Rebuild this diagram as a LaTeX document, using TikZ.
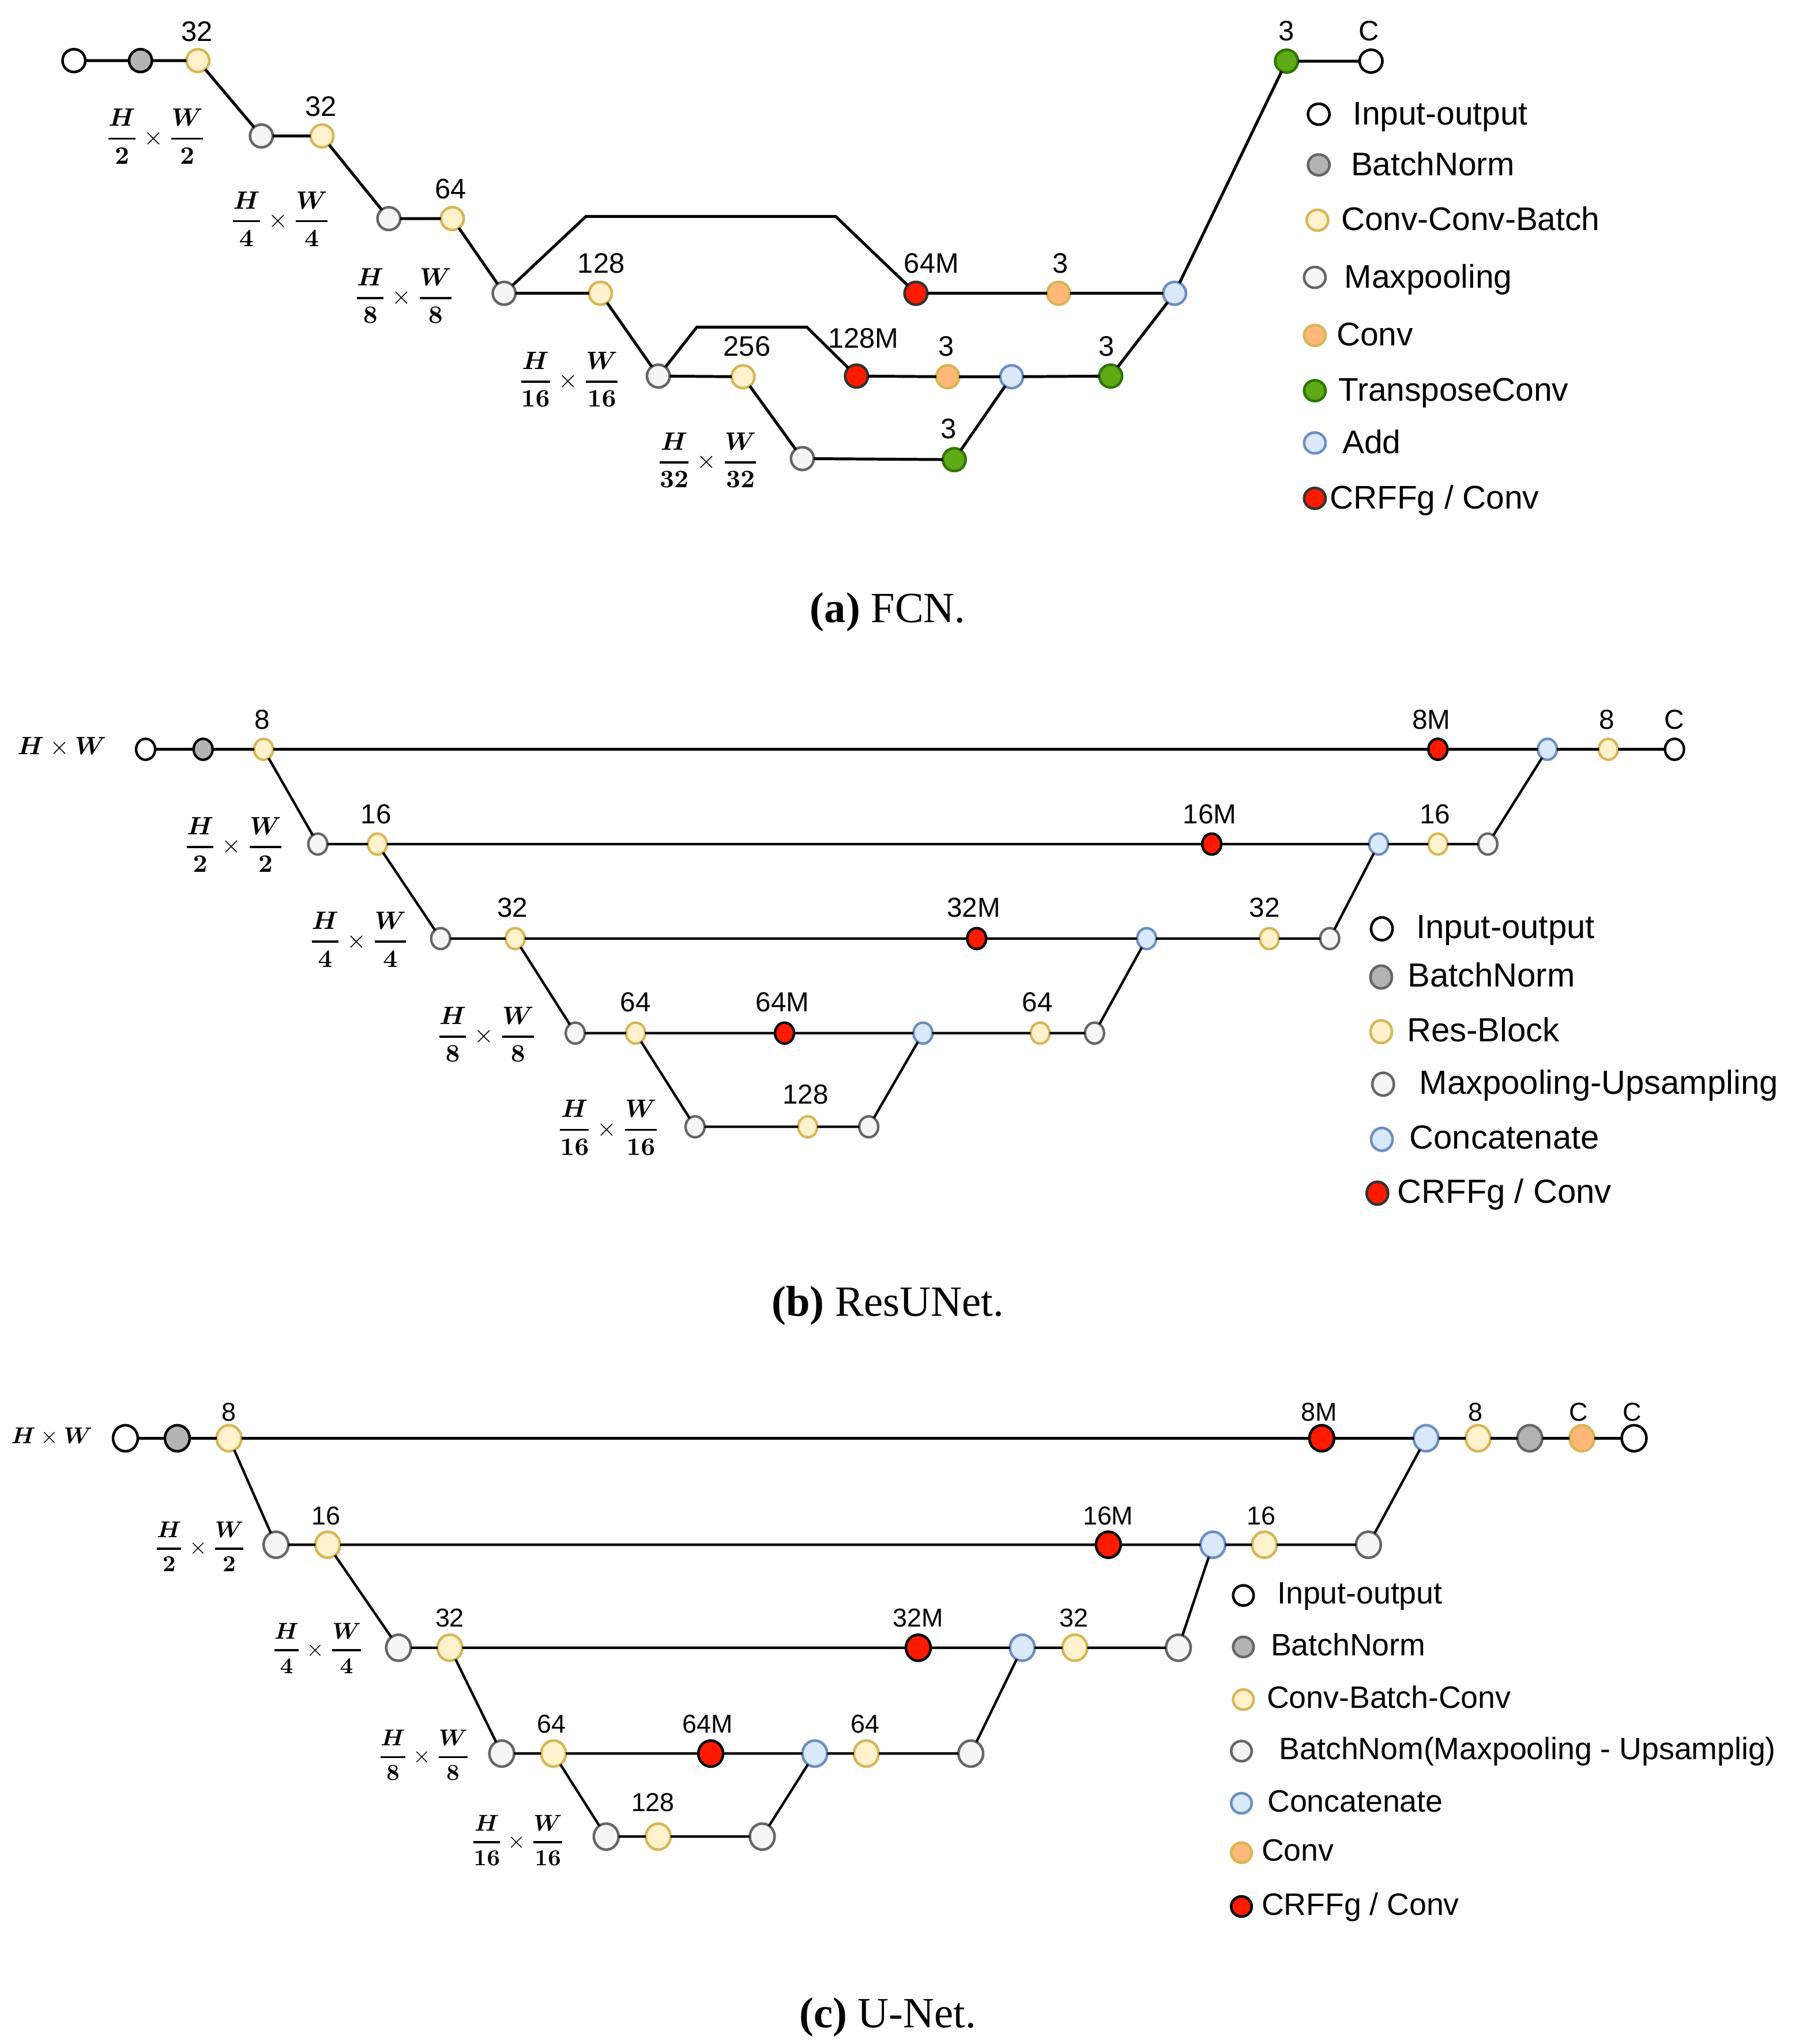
\documentclass[tikz,border=0pt]{standalone}
\usepackage{amsmath}
\usepackage[no-math]{fontspec}
\newfontfamily\arialf{Liberation Sans}
\newfontfamily\timesf{Liberation Serif}
\usetikzlibrary{shapes.geometric}
\definecolor{yfill}{HTML}{FFF2CC}\definecolor{ydraw}{HTML}{D6B656}
\definecolor{gfill}{HTML}{F5F5F5}\definecolor{gdraw}{HTML}{666666}
\definecolor{bnfill}{HTML}{B3B3B3}
\definecolor{ofill}{HTML}{FFB878}
\definecolor{tfill}{HTML}{60A917}\definecolor{tdraw}{HTML}{2D7600}
\definecolor{bfill}{HTML}{DAE8FC}\definecolor{bdraw}{HTML}{6C8EBF}
\definecolor{rfill}{HTML}{FF1A00}\definecolor{rdraw}{HTML}{333333}
\newcommand{\frc}[1]{$\boldsymbol{\genfrac{}{}{0.9pt}{0}{H}{#1}}\times\boldsymbol{\genfrac{}{}{0.9pt}{0}{W}{#1}}$}
\begin{document}
\begin{tikzpicture}[x=0.02cm,y=-0.02cm,
  nd/.style={draw, inner sep=0pt, outer sep=0pt},
  na/.style={nd, circle, minimum size=0.35cm, line width=0.04cm},
  nb/.style={nd, ellipse, minimum width=0.292cm, minimum height=0.322cm, line width=0.038cm},
  nc/.style={nd, ellipse, minimum width=0.38cm, minimum height=0.40cm, line width=0.04cm},
  la/.style={nd, ellipse, minimum width=0.33cm, minimum height=0.32cm, line width=0.04cm},
  lb/.style={nd, ellipse, minimum width=0.33cm, minimum height=0.35cm, line width=0.04cm},
  lc/.style={nd, ellipse, minimum width=0.315cm, minimum height=0.31cm, line width=0.04cm},
  io/.style={fill=white, draw=black},
  bn/.style={fill=bnfill, draw=black},
  bng/.style={fill=bnfill, draw=gdraw},
  yl/.style={fill=yfill, draw=ydraw},
  mp/.style={fill=gfill, draw=gdraw},
  cv/.style={fill=ofill, draw=ydraw},
  tc/.style={fill=tfill, draw=tdraw},
  ad/.style={fill=bfill, draw=bdraw},
  cr/.style={fill=rfill, draw=rdraw},
  crk/.style={fill=rfill, draw=black},
  lna/.style={line width=0.044cm},
  lnb/.style={line width=0.038cm},
  laba/.style={inner sep=0pt, anchor=base, font=\arialf\fontsize{12.3}{14}\selectfont},
  labb/.style={inner sep=0pt, anchor=base, font=\arialf\fontsize{12}{14}\selectfont},
  labc/.style={inner sep=0pt, anchor=base, font=\arialf\fontsize{11.3}{13}\selectfont},
  lga/.style={inner sep=0pt, anchor=base west, font=\arialf\fontsize{14.3}{17}\selectfont},
  lgb/.style={inner sep=0pt, anchor=base west, font=\arialf\fontsize{14.6}{17}\selectfont},
  lgc/.style={inner sep=0pt, anchor=base west, font=\arialf\fontsize{13.5}{16}\selectfont},
  fra/.style={inner sep=0pt, font=\fontsize{11}{13}\selectfont},
  frcc/.style={inner sep=0pt, font=\fontsize{10.4}{12}\selectfont},
  captxt/.style={inner sep=0pt, anchor=base, font=\timesf\fontsize{18.8}{22}\selectfont}
]
\useasboundingbox (0,0) rectangle (1380,1568);

%% ---------------- (a) FCN ----------------
\node[na,io] (a_in) at (56.7,46.5) {};
\node[na,bn] (a_bn) at (107.8,46.5) {};
\node[na,yl] (a_c1) at (151.8,46.5) {};
\node[na,mp] (a_m1) at (200.5,104.3) {};
\node[na,yl] (a_c2) at (247,104.3) {};
\node[na,mp] (a_m2) at (298.3,167.7) {};
\node[na,yl] (a_c3) at (347,167.7) {};
\node[na,mp] (a_m3) at (386.7,225) {};
\node[na,yl] (a_c4) at (460.6,225) {};
\node[na,mp] (a_m4) at (505,288.5) {};
\node[na,yl] (a_c5) at (570,289) {};
\node[na,mp] (a_m5) at (615.5,351.8) {};
\node[na,tc] (a_t1) at (732,352.6) {};
\node[na,cr] (a_r2) at (657,288.5) {};
\node[na,cv] (a_o2) at (727,289) {};
\node[na,ad] (a_d2) at (776,289) {};
\node[na,tc] (a_t2) at (852,288.5) {};
\node[na,cr] (a_r1) at (702.6,225) {};
\node[na,cv] (a_o1) at (812,225) {};
\node[na,ad] (a_d1) at (901,225) {};
\node[na,tc] (a_t3) at (986.9,46.9) {};
\node[na,io] (a_out) at (1051.7,46.9) {};
\coordinate (ka1) at (449.5,166);
\coordinate (ka2) at (641,166);
\coordinate (kb1) at (534.5,251);
\coordinate (kb2) at (619,251);

\draw[lna] (a_in) -- (a_bn) -- (a_c1) -- (a_m1) -- (a_c2) -- (a_m2) -- (a_c3) -- (a_m3) -- (a_c4) -- (a_m4) -- (a_c5) -- (a_m5) -- (a_t1) -- (a_d2);
\draw[lna] (a_m3) -- (ka1) -- (ka2) -- (a_r1) -- (a_o1) -- (a_d1);
\draw[lna] (a_m4) -- (kb1) -- (kb2) -- (a_r2) -- (a_o2) -- (a_d2) -- (a_t2) -- (a_d1) -- (a_t3) -- (a_out);

\node[laba] (al1) at (151,31.5) {32};
\node[laba] (al2) at (246.2,89) {32};
\node[laba] (al3) at (345.8,152.5) {64};
\node[laba] (al4) at (461.2,209.5) {128};
\node[laba] (al5) at (573,273) {256};
\node[laba] (al6) at (714.5,209.5) {64M};
\node[laba] (al7) at (813.6,209.5) {3};
\node[laba] (al8) at (662.3,266.8) {128M};
\node[laba] (al9) at (725.7,273) {3};
\node[laba] (al10) at (848.7,273) {3};
\node[laba] (al11) at (727.6,336.3) {3};
\node[laba] (al12) at (986.9,31.2) {3};
\node[laba] (al13) at (1050,31.2) {C};

\node[fra] (af1) at (119.5,104.7) {\frc{2}};
\node[fra] (af2) at (215,168) {\frc{4}};
\node[fra] (af3) at (310,227) {\frc{8}};
\node[fra] (af4) at (436.7,291) {\frc{16}};
\node[fra] (af5) at (543,353) {\frc{32}};

\node[la,io] (lga1) at (1011.6,87.6) {};
\node[la,bng] (lga2) at (1011.6,126.5) {};
\node[la,yl] (lga3) at (1010.6,168.9) {};
\node[la,mp] (lga4) at (1008.6,212.8) {};
\node[la,cv] (lga5) at (1008.6,257.3) {};
\node[la,tc] (lga6) at (1008.6,299.7) {};
\node[la,ad] (lga7) at (1008.6,339.8) {};
\node[la,cr] (lga8) at (1008.6,382.3) {};
\node[lga] (lta1) at (1037.5,95.6) {Input-output};
\node[lga] (lta2) at (1036,134.5) {BatchNorm};
\node[lga] (lta3) at (1028.5,176.9) {Conv-Conv-Batch};
\node[lga] (lta4) at (1031,220.8) {Maxpooling};
\node[lga] (lta5) at (1025,265.3) {Conv};
\node[lga] (lta6) at (1026.5,307.7) {TransposeConv};
\node[lga] (lta7) at (1029.5,347.8) {Add};
\node[lga] (lta8) at (1019.8,390.3) {CRFFg / Conv};

\node[captxt] (capa) at (681,477.5) {\textbf{(a)} FCN.};

%% ---------------- (b) ResUNet ----------------
\node[nb,io] (b_in) at (111.7,574.8) {};
\node[nb,bn] (b_bn) at (155.8,574.8) {};
\node[nb,yl] (b_r1) at (202.2,574.8) {};
\node[nb,mp] (b_m1) at (243.8,647.5) {};
\node[nb,yl] (b_r2) at (289.5,647.5) {};
\node[nb,mp] (b_m2) at (338,720) {};
\node[nb,yl] (b_r3) at (395.2,720) {};
\node[nb,mp] (b_m3) at (441.3,792.5) {};
\node[nb,yl] (b_r4) at (487.6,792.5) {};
\node[nb,mp] (b_m4) at (533.2,864.4) {};
\node[nb,yl] (b_r5) at (619.6,864.4) {};
\node[nb,mp] (b_u4) at (666.4,864.4) {};
\node[nb,crk] (b_x4) at (601.8,792.5) {};
\node[nb,ad] (b_k4) at (708,792.5) {};
\node[nb,yl] (b_r4b) at (797.9,792.5) {};
\node[nb,mp] (b_u3) at (839.6,792.5) {};
\node[nb,crk] (b_x3) at (749.2,720) {};
\node[nb,ad] (b_k3) at (879.6,720) {};
\node[nb,yl] (b_r3b) at (973.7,720) {};
\node[nb,mp] (b_u2) at (1020,720) {};
\node[nb,crk] (b_x2) at (929.5,647.5) {};
\node[nb,ad] (b_k2) at (1057.5,647.5) {};
\node[nb,yl] (b_r2b) at (1103,647.5) {};
\node[nb,mp] (b_u1) at (1141.3,647.5) {};
\node[nb,crk] (b_x1) at (1103,574.8) {};
\node[nb,ad] (b_k1) at (1187,574.8) {};
\node[nb,yl] (b_r1b) at (1233.7,574.8) {};
\node[nb,io] (b_out) at (1284.5,574.8) {};

\draw[lnb] (b_in) -- (b_bn) -- (b_r1) -- (b_x1) -- (b_k1) -- (b_r1b) -- (b_out);
\draw[lnb] (b_r1) -- (b_m1) -- (b_r2) -- (b_x2) -- (b_k2) -- (b_r2b) -- (b_u1) -- (b_k1);
\draw[lnb] (b_r2) -- (b_m2) -- (b_r3) -- (b_x3) -- (b_k3) -- (b_r3b) -- (b_u2) -- (b_k2);
\draw[lnb] (b_r3) -- (b_m3) -- (b_r4) -- (b_x4) -- (b_k4) -- (b_r4b) -- (b_u3) -- (b_k3);
\draw[lnb] (b_r4) -- (b_m4) -- (b_r5) -- (b_u4) -- (b_k4);

\node[labb] (bl1) at (201,559.5) {8};
\node[labb] (bl2) at (1098,559.5) {8M};
\node[labb] (bl3) at (1232.7,559.5) {8};
\node[labb] (bl4) at (1284.5,559.5) {C};
\node[labb] (bl5) at (288.5,632) {16};
\node[labb] (bl6) at (928,632) {16M};
\node[labb] (bl7) at (1100.7,632) {16};
\node[labb] (bl8) at (393,703.7) {32};
\node[labb] (bl9) at (746.9,703.7) {32M};
\node[labb] (bl10) at (970,703.7) {32};
\node[labb] (bl11) at (487.5,776) {64};
\node[labb] (bl12) at (600.3,776) {64M};
\node[labb] (bl13) at (795.9,776) {64};
\node[labb] (bl14) at (618,846.6) {128};

\node[fra] (bhw) at (47.4,573) {$\boldsymbol{H}\times\boldsymbol{W}$};
\node[fra] (bf1) at (179.5,648) {\frc{2}};
\node[fra] (bf2) at (275.3,720.7) {\frc{4}};
\node[fra] (bf3) at (373.2,793.6) {\frc{8}};
\node[fra] (bf4) at (466.6,865) {\frc{16}};

\node[lb,io] (lgb1) at (1060,712.5) {};
\node[lb,bng] (lgb2) at (1059.5,749.5) {};
\node[lb,yl] (lgb3) at (1059.5,791.4) {};
\node[lb,mp] (lgb4) at (1061,831.7) {};
\node[lb,ad] (lgb5) at (1060,874) {};
\node[lb,cr] (lgb6) at (1056.6,915.3) {};
\node[lgb] (ltb1) at (1086,720) {Input-output};
\node[lgb] (ltb2) at (1079.5,757) {BatchNorm};
\node[lgb] (ltb3) at (1079,798.9) {Res-Block};
\node[lgb] (ltb4) at (1088.5,839.2) {Maxpooling-Upsampling};
\node[lgb] (ltb5) at (1081,881.5) {Concatenate};
\node[lgb] (ltb6) at (1071.8,922.8) {CRFFg / Conv};

\node[captxt] (capb) at (681,1009.5) {\textbf{(b)} ResUNet.};

%% ---------------- (c) U-Net ----------------
\node[nc,io] (c_in) at (96.2,1103.3) {};
\node[nc,bn] (c_bn) at (136,1103.3) {};
\node[nc,yl] (c_y1) at (175.7,1103.3) {};
\node[nc,mp] (c_m1) at (211.7,1185) {};
\node[nc,yl] (c_y2) at (251.4,1185) {};
\node[nc,mp] (c_m2) at (305.7,1264) {};
\node[nc,yl] (c_y3) at (345.1,1264) {};
\node[nc,mp] (c_m3) at (384.9,1345.2) {};
\node[nc,yl] (c_y4) at (424.6,1345.2) {};
\node[nc,mp] (c_m4) at (465,1408.9) {};
\node[nc,yl] (c_y5) at (504.9,1408.9) {};
\node[nc,mp] (c_u4) at (584.7,1408.9) {};
\node[nc,crk] (c_x4) at (545.2,1345.2) {};
\node[nc,ad] (c_k4) at (625,1345.2) {};
\node[nc,yl] (c_y4b) at (664.5,1345.2) {};
\node[nc,mp] (c_u3) at (744.7,1345.2) {};
\node[nc,crk] (c_x3) at (704.4,1264) {};
\node[nc,ad] (c_k3) at (784.2,1264) {};
\node[nc,yl] (c_y3b) at (824.5,1264) {};
\node[nc,mp] (c_u2) at (903.9,1264) {};
\node[nc,crk] (c_x2) at (850.2,1185) {};
\node[nc,ad] (c_k2) at (930.4,1185) {};
\node[nc,yl] (c_y2b) at (969.9,1185) {};
\node[nc,mp] (c_u1) at (1049.7,1185) {};
\node[nc,crk] (c_x1) at (1013.9,1103.3) {};
\node[nc,ad] (c_k1) at (1093.9,1103.3) {};
\node[nc,yl] (c_y1b) at (1133.8,1103.3) {};
\node[nc,bng] (c_bn2) at (1173.5,1103.3) {};
\node[nc,cv] (c_cv) at (1213.5,1103.3) {};
\node[nc,io] (c_out) at (1253.5,1103.3) {};

\draw[lnb] (c_in) -- (c_bn) -- (c_y1) -- (c_x1) -- (c_k1) -- (c_y1b) -- (c_bn2) -- (c_cv) -- (c_out);
\draw[lnb] (c_y1) -- (c_m1) -- (c_y2) -- (c_x2) -- (c_k2) -- (c_y2b) -- (c_u1) -- (c_k1);
\draw[lnb] (c_y2) -- (c_m2) -- (c_y3) -- (c_x3) -- (c_k3) -- (c_y3b) -- (c_u2) -- (c_k2);
\draw[lnb] (c_y3) -- (c_m3) -- (c_y4) -- (c_x4) -- (c_k4) -- (c_y4b) -- (c_u3) -- (c_k3);
\draw[lnb] (c_y4) -- (c_m4) -- (c_y5) -- (c_u4) -- (c_k4);

\node[labc] (cl1) at (175.7,1089.9) {8};
\node[labc] (cl2) at (1012,1089.9) {8M};
\node[labc] (cl3) at (1132,1089.9) {8};
\node[labc] (cl4) at (1211,1089.9) {C};
\node[labc] (cl5) at (1252,1089.9) {C};
\node[labc] (cl6) at (250,1169.5) {16};
\node[labc] (cl7) at (850,1169.5) {16M};
\node[labc] (cl8) at (967.5,1169.5) {16};
\node[labc] (cl9) at (345,1248) {32};
\node[labc] (cl10) at (704.4,1248) {32M};
\node[labc] (cl11) at (823.7,1248) {32};
\node[labc] (cl12) at (423,1329.5) {64};
\node[labc] (cl13) at (543,1329.5) {64M};
\node[labc] (cl14) at (663.7,1329.5) {64};
\node[labc] (cl15) at (500.9,1389.7) {128};

\node[frcc] (chw) at (39.7,1102) {$\boldsymbol{H}\times\boldsymbol{W}$};
\node[frcc] (cf1) at (153.6,1186.5) {\frc{2}};
\node[frcc] (cf2) at (243.7,1264.4) {\frc{4}};
\node[frcc] (cf3) at (325.3,1346.4) {\frc{8}};
\node[frcc] (cf4) at (397.3,1411.7) {\frc{16}};

\node[lc,io] (lgc1) at (953.8,1223.9) {};
\node[lc,bng] (lgc2) at (953.8,1263.4) {};
\node[lc,yl] (lgc3) at (953.8,1303.8) {};
\node[lc,mp] (lgc4) at (952.3,1343.3) {};
\node[lc,ad] (lgc5) at (952.3,1383.3) {};
\node[lc,cv] (lgc6) at (952.3,1421.2) {};
\node[lc,crk] (lgc7) at (952.3,1462.5) {};
\node[lgc] (ltc1) at (979.5,1230.4) {Input-output};
\node[lgc] (ltc2) at (974.5,1269.9) {BatchNorm};
\node[lgc] (ltc3) at (971.5,1310.3) {Conv-Batch-Conv};
\node[lgc] (ltc4) at (981,1349.8) {BatchNom(Maxpooling - Upsamplig)};
\node[lgc] (ltc5) at (972,1389.8) {Concatenate};
\node[lgc] (ltc6) at (967.5,1427.7) {Conv};
\node[lgc] (ltc7) at (967.5,1469) {CRFFg / Conv};

\node[captxt] (capc) at (681,1555.5) {\textbf{(c)} U-Net.};
\end{tikzpicture}
\end{document}
